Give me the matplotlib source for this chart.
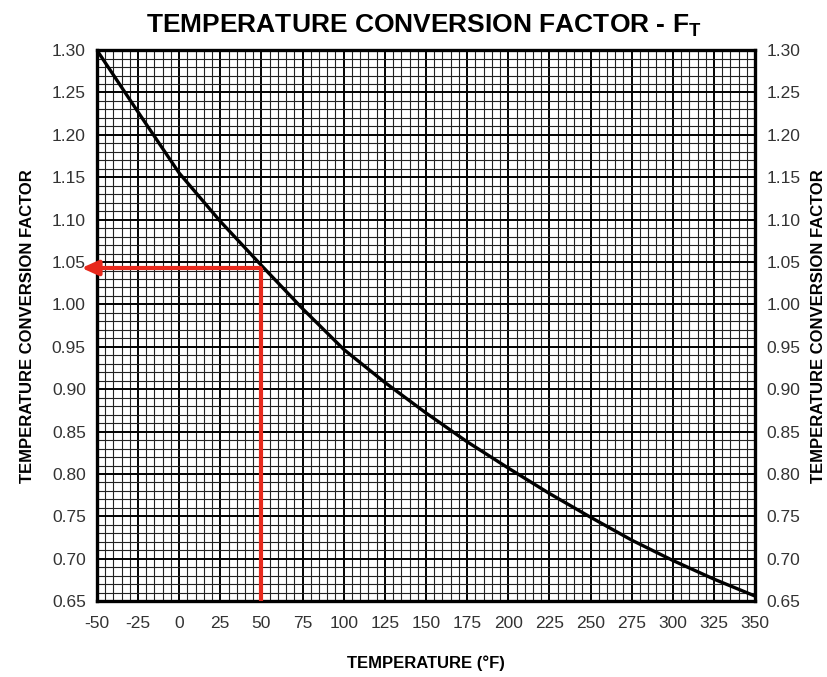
import matplotlib.pyplot as plt
from matplotlib.ticker import MultipleLocator

# values
temps = [-50, -25, 0, 25, 50, 75, 100, 125, 150, 175, 200, 225, 250, 275, 300, 325, 350]
factor = [1.300, 1.227, 1.155, 1.098, 1.046, 0.995, 0.947, 0.908, 0.872, 0.838,
          0.807, 0.777, 0.749, 0.722, 0.698, 0.676, 0.656]
x_ticks = list(range(-50, 351, 25))
y_ticks = [0.65, 0.70, 0.75, 0.80, 0.85, 0.90, 0.95, 1.00, 1.05, 1.10, 1.15, 1.20, 1.25, 1.30]
example_temp = 50
example_factor = 1.043

plt.rcParams['font.family'] = ['Liberation Sans', 'DejaVu Sans']

fig = plt.figure(figsize=(8.28, 6.77), dpi=100)
ax = fig.add_axes([0.117, 0.112, 0.795, 0.814])

ax.set_xlim(-50, 350)
ax.set_ylim(0.65, 1.30)
ax.set_xticks(x_ticks)
ax.set_xticklabels([str(t) for t in x_ticks])
ax.set_yticks(y_ticks)
ax.xaxis.set_minor_locator(MultipleLocator(5))
ax.yaxis.set_minor_locator(MultipleLocator(0.01))
ax.set_yticklabels([f"{v:.2f}" for v in y_ticks])

ax.grid(which='major', color='black', linewidth=1.4)
ax.grid(which='minor', color='#222222', linewidth=0.8)
ax.set_axisbelow(True)

for s in ax.spines.values():
    s.set_linewidth(2.4)

ax.tick_params(which='both', length=0, labelsize=12.5, labelcolor='#333333', pad=8)
ax.tick_params(axis='x', pad=11)
ax.tick_params(axis='y', labelright=True, right=True)

ax.plot(temps, factor, color='black', linewidth=2.4, zorder=4)

# red example reading
ax.plot([example_temp, example_temp], [0.65, example_factor], color='#e8291c',
        linewidth=3, zorder=5, clip_on=False, solid_capstyle='butt')
ax.annotate('', xy=(-61, example_factor), xytext=(example_temp + 1, example_factor),
            arrowprops=dict(arrowstyle='-|>,head_length=1.0,head_width=0.45',
                            color='#e8291c', lw=3),
            zorder=5, annotation_clip=False)

fig.text(0.512, 0.962, r"TEMPERATURE CONVERSION FACTOR - F$_\mathregular{T}$",
         ha='center', va='center', fontsize=19, fontweight='bold')
ax.set_xlabel("TEMPERATURE (°F)", fontsize=12, fontweight='bold', labelpad=17)
ax.set_ylabel("TEMPERATURE CONVERSION FACTOR", fontsize=12, fontweight='bold', labelpad=12)
ax2 = ax.secondary_yaxis('right')
ax2.set_yticks([])
ax2.set_ylabel("TEMPERATURE CONVERSION FACTOR", fontsize=12, fontweight='bold', labelpad=40)
ax2.spines['right'].set_visible(False)

fig.savefig('out.png', dpi=100)
